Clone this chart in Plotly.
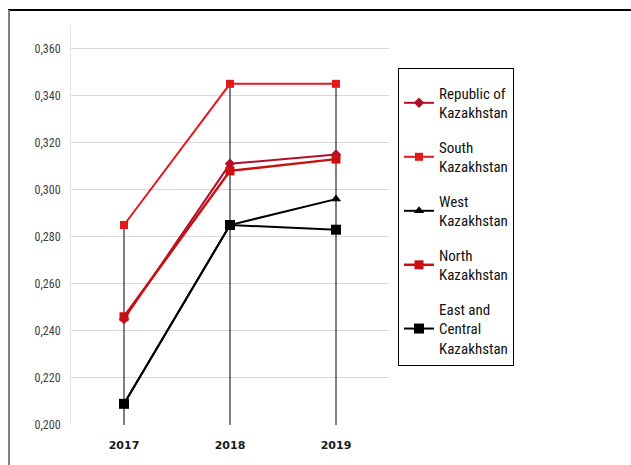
import plotly.graph_objects as go

years = ["2017", "2018", "2019"]
republic = [0.245, 0.311, 0.315]
south = [0.285, 0.345, 0.345]
west = [0.209, 0.285, 0.296]
north = [0.246, 0.308, 0.313]
east_central = [0.209, 0.285, 0.283]

names = ["Republic of<br>Kazakhstan", "South<br>Kazakhstan", "West<br>Kazakhstan",
         "North<br>Kazakhstan", "East and<br>Central<br>Kazakhstan"]
series = [republic, south, west, north, east_central]
colors = ["#B2102A", "#E3191C", "#000000", "#C80F12", "#000000"]
symbols = ["diamond", "square", "triangle-up", "square", "square"]
widths = [2, 2, 2, 2.5, 2]
msizes = [8, 8, 9, 9, 10]

y_min, y_max = 0.2, 0.37
y_ticks = [0.200, 0.220, 0.240, 0.260, 0.280, 0.300, 0.320, 0.340, 0.360]

fig = go.Figure()

# drop lines (from highest value to axis minimum)
dx, dy = [], []
for i, yr in enumerate(years):
    top = max(s[i] for s in series)
    dx += [yr, yr, None]
    dy += [y_min, top, None]
fig.add_trace(go.Scatter(x=dx, y=dy, mode="lines", line=dict(color="#000000", width=1),
                         showlegend=False, hoverinfo="skip"))

for i, (nm, s) in enumerate(zip(names, series)):
    fig.add_trace(go.Scatter(
        x=years, y=s, name=nm, mode="lines+markers", legendgroup=str(i),
        line=dict(color=colors[i], width=widths[i]),
        marker=dict(symbol=symbols[i], size=msizes[i], color=colors[i]),
    ))

L, R, T, B = 71, 242, 25, 40
W, H = 631, 465
pw, ph = W - L - R, H - T - B

def px(x):
    return (x - L) / pw

def py(y):
    return (H - B - y) / ph

narrow = "Liberation Sans Narrow, Roboto Condensed, Arial Narrow, Liberation Sans, sans-serif"

fig.update_layout(
    width=W, height=H,
    margin=dict(l=L, r=R, t=T, b=B),
    paper_bgcolor="white", plot_bgcolor="white",
    separators=", ",
    font=dict(family=narrow),
    xaxis=dict(
        type="category", range=[-0.5, 2.5], showgrid=False, zeroline=False,
        tickmode="array", tickvals=years, ticktext=["<b>%s</b>" % y for y in years],
        tickfont=dict(family="DejaVu Sans, sans-serif", size=11, color="#1a1a1a"),
        ticks="outside", ticklen=10, tickcolor="rgba(0,0,0,0)", showline=False,
    ),
    yaxis=dict(
        range=[y_min, y_max], tickmode="array", tickvals=y_ticks, tickformat=".3f",
        showgrid=True, gridcolor="#d9d9d9", gridwidth=1, zeroline=False,
        showline=True, linecolor="#e6e6e6", linewidth=1,
        tickfont=dict(family=narrow, size=12, color="#404040"),
        ticks="outside", ticklen=7, tickcolor="rgba(0,0,0,0)",
    ),
    legend=dict(
        x=px(398), y=py(68), xanchor="left", yanchor="top",
        bordercolor="#000000", borderwidth=1, bgcolor="white",
        font=dict(size=15, color="#111111"),
        title=dict(text="&nbsp;", font=dict(size=6)),
        itemwidth=30, tracegroupgap=12, traceorder="grouped",
    ),
    shapes=[
        dict(type="line", xref="paper", yref="paper", x0=px(8), x1=px(631), y0=py(10), y1=py(10),
             line=dict(color="#000000", width=2)),
        dict(type="line", xref="paper", yref="paper", x0=px(9), x1=px(9), y0=py(10), y1=py(465),
             line=dict(color="#808080", width=2)),
    ],
)

fig.write_html("out.html")
